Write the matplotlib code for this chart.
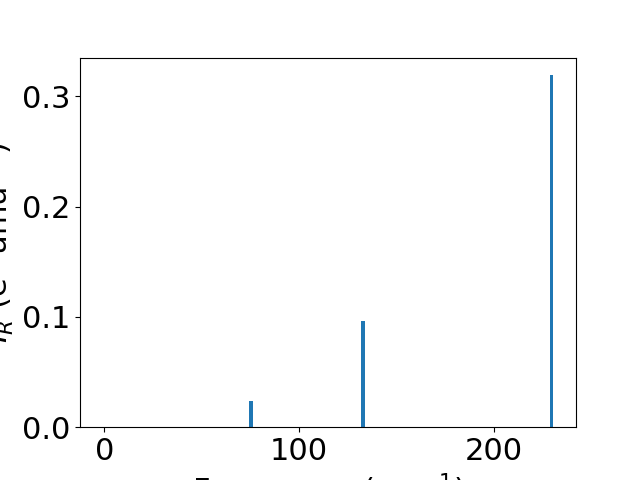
import matplotlib
matplotlib.use('Agg')
import matplotlib.pyplot as plt

# vibrational modes: frequency (cm^-1) and IR intensity
freqs = [0.0, 0.0, 0.0, 75.2, 133.1, 229.8]
intensities = [0.0, 0.0, 0.0, 0.0235, 0.0958, 0.319]

plt.rcParams['font.size'] = 22

fig, ax = plt.subplots(figsize=(6.4, 4.8), dpi=100)
ax.bar(freqs, intensities, width=2.0, color='#1f77b4')
ax.set_xlabel('Frequency (cm$^{-1}$)')
ax.set_ylabel('$I_R$ (e$^2$ amu$^{-1}$)')

fig.savefig('out.png', dpi=100)
